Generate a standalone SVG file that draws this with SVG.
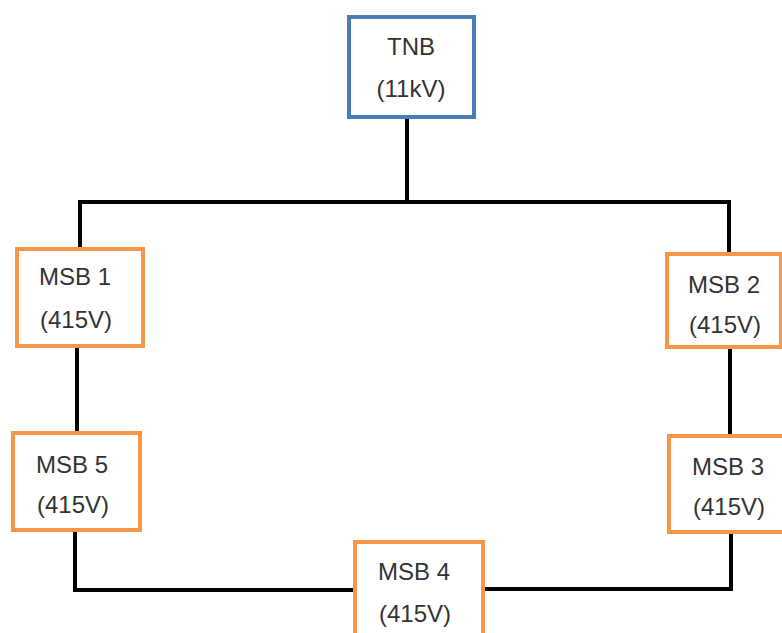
<svg xmlns="http://www.w3.org/2000/svg" width="782" height="633" viewBox="0 0 782 633">
<style>
.box{fill:#fff;stroke-width:4}
.blue{stroke:#4a7ebb}
.orange{stroke:#f79646}
.wire{fill:none;stroke:#000;stroke-width:4;stroke-linejoin:miter}
text{font-family:"Liberation Sans",Arial,sans-serif;font-size:24px;fill:#333;text-anchor:middle}
</style>
<rect width="782" height="633" fill="#fff"/>
<g id="connectors">
<path class="wire" d="M407 117 V202"/>
<path class="wire" d="M80 249 V202 H729 V254"/>
<path class="wire" d="M77 346 V433"/>
<path class="wire" d="M730 347 V436"/>
<path class="wire" d="M75 530 V590 H355"/>
<path class="wire" d="M483 589 H731 V532"/>
</g>
<g id="tnb">
<rect class="box blue" x="349" y="17" width="125" height="100"/>
<text x="411" y="55">TNB</text>
<text x="411" y="97">(11kV)</text>
</g>
<g id="msb1">
<rect class="box orange" x="17" y="249" width="126" height="97"/>
<text x="75" y="285">MSB 1</text>
<text x="76" y="328">(415V)</text>
</g>
<g id="msb2">
<rect class="box orange" x="667" y="254" width="114" height="93"/>
<text x="724" y="293">MSB 2</text>
<text x="725" y="333">(415V)</text>
</g>
<g id="msb3">
<rect class="box orange" x="669" y="436" width="120" height="96"/>
<text x="728" y="475">MSB 3</text>
<text x="729" y="515">(415V)</text>
</g>
<g id="msb5">
<rect class="box orange" x="13" y="433" width="127" height="97"/>
<text x="72" y="473">MSB 5</text>
<text x="73" y="513">(415V)</text>
</g>
<g id="msb4">
<rect class="box orange" x="355" y="542" width="128" height="100"/>
<text x="414" y="580">MSB 4</text>
<text x="415" y="622">(415V)</text>
</g>
</svg>
